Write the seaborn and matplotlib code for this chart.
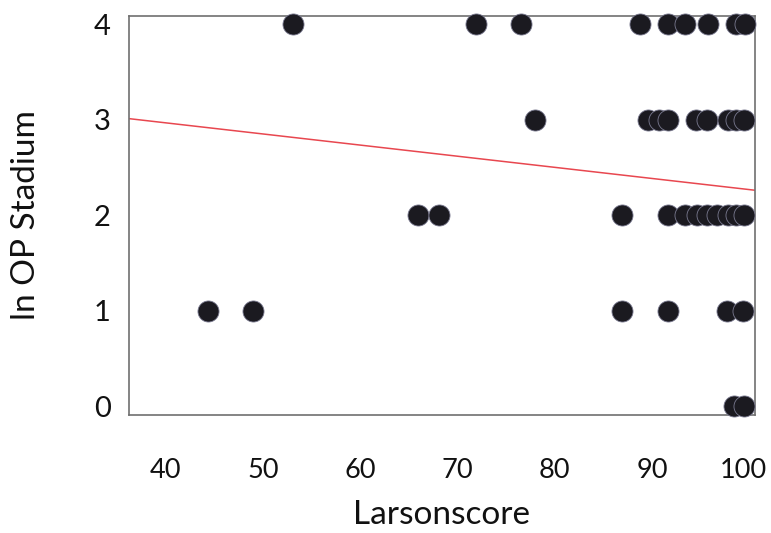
import matplotlib
matplotlib.use("Agg")
import matplotlib.pyplot as plt
import matplotlib.transforms as mtransforms
import seaborn as sns
import pandas as pd

# Larson score vs. OP stadium (ln scale), one point per subject
larson = [53.1, 71.9, 76.5, 88.8, 91.6, 93.4, 95.8, 98.6, 99.6,
          78.0, 89.6, 90.7, 91.6, 94.5, 95.7, 97.8, 98.6, 99.5,
          65.9, 68.1, 86.9, 91.6, 93.4, 94.6, 95.7, 96.7, 97.8, 98.6, 99.5,
          44.3, 49.0, 86.9, 91.6, 97.7, 99.4,
          98.4, 99.5]
stadium = [4] * 9 + [3] * 9 + [2] * 11 + [1] * 6 + [0] * 2

# linear fit line (endpoints)
fit_x = [36.2, 100.6]
fit_y = [3.01, 2.26]

x_ticks = [40, 50, 60, 70, 80, 90, 100]
y_ticks = [0, 1, 2, 3, 4]

sns.set_style("white")
plt.rcParams["font.family"] = ["Lato", "DejaVu Sans"]

df = pd.DataFrame({"Larsonscore": larson, "ln OP Stadium": stadium})
fit = pd.DataFrame({"x": fit_x, "y": fit_y})

fig = plt.figure(figsize=(7.71, 5.33), dpi=100)
ax = fig.add_axes([129 / 771, 1 - 415 / 533, (755 - 129) / 771, (415 - 16) / 533])

sns.lineplot(data=fit, x="x", y="y", color="#e8474f", linewidth=1.1, ax=ax, zorder=1)
sns.scatterplot(data=df, x="Larsonscore", y="ln OP Stadium", s=230, color="#1b1a20",
                edgecolor="#7a7a90", linewidth=0.6, ax=ax, zorder=3, clip_on=False)

ax.set_xlim(36.2, 100.6)
ax.set_ylim(-0.094, 4.085)
ax.set_xticks(x_ticks)
ax.set_yticks(y_ticks)
ax.tick_params(axis="both", direction="out", length=7, width=1.2, color="#707070",
               labelsize=21, labelcolor="#111111", pad=6)
ax.tick_params(axis="x", pad=24, labelsize=19.5)
for sp in ax.spines.values():
    sp.set_color("#707070")
    sp.set_linewidth(1.2)

# nudge the last x tick label inward so it stays inside the figure
last = ax.get_xticklabels()[-1]
last.set_transform(last.get_transform() +
                   mtransforms.ScaledTranslation(-4 / 72, 0, fig.dpi_scale_trans))

ax.set_xlabel("Larsonscore", fontsize=24, color="#111111", labelpad=12)
ax.set_ylabel("ln OP Stadium", fontsize=24, color="#111111", labelpad=38)

fig.savefig("out.png", dpi=100)
